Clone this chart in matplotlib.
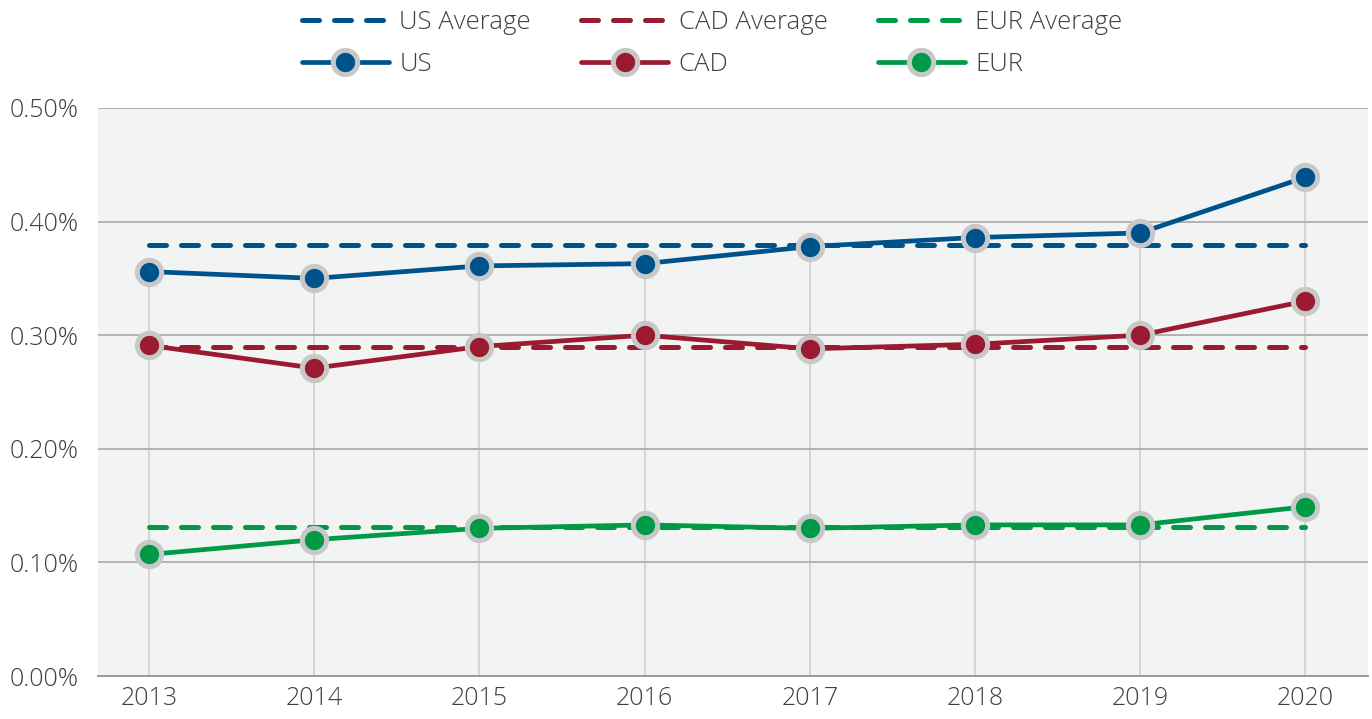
import matplotlib
matplotlib.use("Agg")
import matplotlib.pyplot as plt
from matplotlib.ticker import FuncFormatter

# ---------------- DATA ---------------- #

YEARS = [2013, 2014, 2015, 2016, 2017, 2018, 2019, 2020]

# values in percent
US = [0.356, 0.350, 0.361, 0.363, 0.378, 0.386, 0.390, 0.439]
CAD = [0.291, 0.271, 0.290, 0.300, 0.288, 0.292, 0.300, 0.330]
EUR = [0.107, 0.120, 0.130, 0.133, 0.130, 0.133, 0.133, 0.149]

US_AVG = 0.379
CAD_AVG = 0.290
EUR_AVG = 0.131

Y_TICKS = [0.0, 0.1, 0.2, 0.3, 0.4, 0.5]

# ---------------- STYLE ---------------- #

BLUE = "#00528a"
RED = "#9a1a30"
GREEN = "#009946"
HALO = "#c8c8c8"
TEXT = "#404040"

plt.rcParams["font.family"] = ["Open Sans", "DejaVu Sans"]
plt.rcParams["font.weight"] = "light"
plt.rcParams["font.size"] = 18

fig = plt.figure(figsize=(13.72, 7.19), dpi=100)
ax = fig.add_axes([0.0714, 0.0598, 0.9256, 0.79])
ax.set_facecolor("#f2f3f3")

# drop lines from the top series down to zero
ax.vlines(YEARS, 0, US, color="#d0d0d0", linewidth=1.2, zorder=1)

for val in Y_TICKS[1:]:
    ax.axhline(val, color="#b3b3b3", linewidth=1.4, zorder=1)

dash = (0, (3.4, 3.0))
series = [
    ("US", US, US_AVG, BLUE),
    ("CAD", CAD, CAD_AVG, RED),
    ("EUR", EUR, EUR_AVG, GREEN),
]

avg_handles = []
line_handles = []
for name, vals, avg, color in series:
    h_avg, = ax.plot(YEARS, [avg] * len(YEARS), linestyle=dash, color=color,
                     linewidth=3.6, dash_capstyle="round", zorder=2,
                     label=f"{name} Average")
    avg_handles.append(h_avg)

for name, vals, avg, color in series:
    h, = ax.plot(YEARS, vals, color=color, linewidth=3.4, marker="o",
                 markersize=17.5, markerfacecolor=color,
                 markeredgecolor=HALO, markeredgewidth=3.6,
                 solid_capstyle="round", zorder=3, label=name)
    line_handles.append(h)

ax.set_xlim(2012.69, 2020.38)
ax.set_ylim(0, 0.5)
ax.set_xticks(YEARS)
ax.set_yticks(Y_TICKS)
ax.yaxis.set_major_formatter(FuncFormatter(lambda v, p: f"{v:.2f}%"))

for side in ["top", "right", "left"]:
    ax.spines[side].set_visible(False)
ax.spines["bottom"].set_color("#9a9a9a")
ax.spines["bottom"].set_linewidth(1.4)

ax.tick_params(axis="both", length=0, colors=TEXT, labelsize=18)
ax.tick_params(axis="y", pad=14)
ax.tick_params(axis="x", pad=7)

# legend: averages on first row, series on second row
handles = []
for a, l in zip(avg_handles, line_handles):
    handles += [a, l]
leg = fig.legend(handles=handles, labels=[h.get_label() for h in handles],
                 ncol=3, loc="upper center", bbox_to_anchor=(0.519, 1.018),
                 frameon=False, handlelength=3.4, handletextpad=0.4,
                 columnspacing=1.95, labelspacing=0.66, numpoints=1,
                 fontsize=18.5)
for t in leg.get_texts():
    t.set_color(TEXT)

fig.savefig("out.png", dpi=100)
